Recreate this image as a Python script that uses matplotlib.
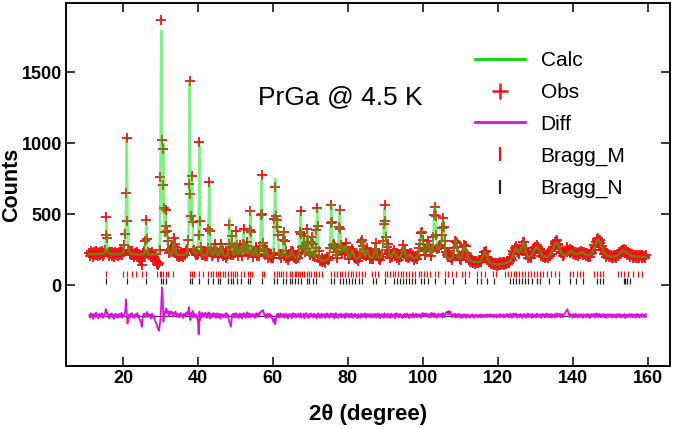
import numpy as np
import matplotlib
matplotlib.use("Agg")
import matplotlib.pyplot as plt
from matplotlib.lines import Line2D

plt.rcParams['font.family'] = ['Liberation Sans', 'DejaVu Sans']

# background points (2theta, counts), linear between them as in the refinement
bg_pos = [11, 20, 30, 40, 50, 60, 66, 73, 80, 90, 100, 110, 116, 120, 124, 130, 140, 150, 160]
bg_counts = [220, 218, 210, 203, 197, 190, 185, 165, 180, 185, 180, 170, 155, 142, 160, 185, 195, 195, 200]

# peaks: position, height above background, fwhm
peak_pos = [15.6, 20.6, 21.0, 26.2, 30.2, 30.8, 31.4, 31.8, 33.6, 37.8, 38.4, 40.4,
            43.0, 44.6, 46.2, 48.4, 49.0, 50.2, 51.2, 52.2, 53.0, 54.0, 55.4, 57.0,
            58.2, 60.6, 61.2, 63.0, 65.0, 67.4, 68.2, 69.2, 70.4, 71.8, 75.6, 76.4,
            77.8, 78.8, 79.6, 81.2, 83.8, 85.2, 87.4, 89.8, 90.6, 92.4, 94.8, 96.6,
            99.6, 101.4, 103.2, 104.4, 105.4, 108.8, 111.2, 116.6, 124.8, 126.8, 130.4,
            135.6, 139.6, 142.4, 146.8, 153.6]
peak_amp = [240, 60, 790, 235, 1560, 740, 240, 120, 100, 1210, 520, 770,
            500, 70, 80, 265, 160, 160, 60, 170, 80, 335, 60, 545,
            60, 545, 250, 195, 50, 315, 140, 200, 160, 365, 395, 110,
            345, 80, 90, 60, 130, 60, 95, 355, 70, 50, 85, 30,
            200, 110, 370, 60, 270, 140, 110, 80, 90, 120, 80,
            110, 40, 30, 125, 45]
peak_fwhm = [0.32, 0.4, 0.32, 0.32, 0.32, 0.32, 0.32, 0.35, 0.6, 0.32, 0.32, 0.32,
             0.34, 0.6, 0.6, 0.36, 0.36, 0.4, 0.5, 0.4, 0.45, 0.4, 0.5, 0.4,
             0.5, 0.42, 0.42, 0.45, 0.8, 0.45, 0.45, 0.5, 0.5, 0.5, 0.5, 0.5,
             0.5, 0.6, 0.6, 0.8, 0.7, 0.8, 0.6, 0.6, 0.7, 1.0, 0.8, 1.0,
             0.9, 0.9, 0.7, 0.9, 0.8, 0.9, 1.1, 1.3, 1.6, 1.3, 2.0,
             2.0, 2.0, 2.0, 2.2, 2.5]

# obs - calc, one value every 0.2 deg starting at 11.0
resid = [
    5, -12, 18, -3, 9, -20, 14, 2, -9, 22, -6, 11, -17, 4, 15, -8, 0, 19, -14, 7,
    -5, 12, 48, 20, 25, -10, 6, -18, 13, -2, 17, -11, 8, -21, 3, 16, -7, 10, -15, 5,
    14, -9, 2, 21, -13, 6, -4, 18, 30, 117, 25, -54, -20, 8, -12, 15, -6, 20, -10, 3,
    -16, 9, 12, -5, 19, -11, 4, -22, -30, -45, -77, -20, 6, 17, -9, 11, 10, 28, -8, 14,
    -3, 10, -18, 7, 15, -12, 2, -20, -35, -48, -60, -80, -95, -105, -70, -20, 73, 200, 130, -40,
    30, 15, 40, 52, 20, 35, -5, 28, 12, 33, 18, 25, -6, 22, 10, 30, 5, -8, 15, 2,
    -10, 12, 20, -4, 8, -15, 16, 3, -7, 18, 25, 5, 30, 63, 10, -30, 20, 10, 35, -12,
    15, 5, -8, 10, -20, -40, -129, 30, -30, 14, -12, 20, 2, 17, -5, 22, 8, -14, 18, -4,
    25, -18, 9, 16, -10, 4, 20, -6, 13, -15, 7, 18, -12, 3, 15, -20, 10, -3, 12, -9,
    6, 14, -11, 20, -4, 9, -25, -45, -60, -77, -20, 12, -8, 16, 3, -13, 19, -2, 10, -16,
    8, 17, -9, 12, -18, 5, 20, -6, 11, -14, 15, 24, -10, 4, 18, -12, 9, -3, 14, -7,
    10, -15, 6, 19, -8, 13, -2, 22, 15, 28, 35, 30, 40, 18, -5, 12, -14, 8, 16, -9,
    5, 14, -11, 7, -18, -30, -45, -20, -59, -25, 10, -6, 15, -12, 4, 18, -9, 11, -3, 13,
    -14, 6, 17, -8, 10, -19, 3, 14, -5, 12, -16, 8, 19, -7, 2, 15, -12, 9, -4, 16,
    -10, 5, 18, -13, 7, -2, 14, -17, 9, 20, -6, 11, -15, 4, 13, -9, 17, -3, 8, -12,
    15, -5, 10, -18, 6, 19, -8, 12, -14, 3, 16, -10, 7, -4, 14, -16, 9, 18, -7, 11,
    -13, 4, 17, -9, 12, -2, 15, -18, 8, 20, -11, 6, -15, 13, 2, -7, 16, -12, 9, -4,
    12, -16, 7, 18, -8, 3, 14, -12, 10, -5, 17, -14, 6, 11, -9, 15, -3, 8, -17, 13,
    -6, 10, -13, 16, 4, -10, 12, -2, 18, -15, 7, 13, -8, 3, 15, -11, 9, -5, 14, -12,
    8, -4, 15, -13, 6, 17, -9, 11, -16, 2, 13, -7, 10, -14, 18, -3, 7, -11, 14, -6,
    11, -15, 4, 16, -10, 8, -3, 13, -17, 9, 19, -6, 12, -12, 5, 15, -8, 3, -14, 10,
    -7, 14, -11, 6, 17, -5, 10, -16, 8, 12, -9, 4, 18, -13, 7, -2, 15, -10, 11, -4,
    13, -8, 9, -15, 16, 20, 5, 14, -6, 18, 10, -3, 12, -11, 6, 15, -9, 22, 8, -5,
    17, -10, 12, 4, -14, 9, 16, -7, 11, -2, 14, -12, 20, 6, -8, 13, 25, 18, 30, 10,
    35, 15, 28, 5, -10, 12, -6, 9, 16, -13, 4, 11, -9, 14, -4, 8, -15, 10, 3, -11,
    12, -6, 9, -14, 5, 10, -8, 3, -12, 7, -3, 11, -9, 4, -13, 6, 9, -5, 2, -10,
    8, -4, 11, -12, 3, 7, -9, 5, -2, 10, -11, 4, 8, -6, 1, 12, -8, 6, -3, 9,
    -10, 5, -2, 8, -12, 4, 9, -6, 13, -9, 6, -3, 11, -13, 7, 2, -8, 14, -5, 10,
    -11, 15, -4, 8, -14, 10, 17, -7, 12, -2, 16, -12, 9, 4, -9, 14, -5, 11, -15, 7,
    13, -6, 10, -13, 5, 17, -8, 12, -3, 9, -15, 14, 2, -10, 11, 6, -12, 16, -4, 8,
    -9, 12, 4, -14, 10, 15, -6, 8, -11, 13, -2, 16, -10, 6, 11, -8, 14, -13, 5, 9,
    -5, 14, -12, 7, 18, -7, 11, -3, 15, -10, 8, 13, -9, 4, 16, 20, 30, 38, 47, 25,
    10, -8, 14, -4, 9, -13, 12, 5, -10, 15, -6, 8, -12, 11, 3, -9, 13, -5, 7, -14,
    12, -3, 9, -11, 14, 6, -8, 11, -15, 7, 13, -6, 10, -2, 15, -12, 8, 18, -7, 12,
    -9, 13, 4, -12, 10, -5, 14, -10, 7, 11, -14, 5, 12, -7, 9, -3, 13, -11, 6, -8,
    11, -6, 8, -13, 12, 3, -9, 14, -4, 7, -12, 10, 5, -8, 13, -15, 9, 2, -10, 11,
    -5, 12, -9, 6, 14, -11, 8, -3, 10, -13, 7, 15, -6, 9, -12, 4, 11, -8, 13, -2,
    8, -10, 6, 12,
]
diff_offset = -215

bragg_m = [15.6, 19.9, 21.0, 22.4, 23.6, 25.2, 26.2, 29.2, 29.9, 30.2, 30.8, 31.4, 31.9,
           33.4, 37.8, 38.4, 38.9, 40.4, 41.4, 42.8, 43.4, 44.1, 44.8, 45.4, 46.0, 46.6,
           47.2, 48.1, 48.7, 49.4, 50.0, 50.5, 51.4, 52.3, 53.4, 54.0, 54.5, 57.0, 57.6,
           60.3, 61.0, 61.6, 62.1, 62.8, 63.6, 64.5, 65.2, 65.9, 66.3, 66.8, 67.2, 67.9,
           68.3, 69.0, 69.7, 70.3, 71.0, 71.6, 72.3, 73.0, 75.6, 76.3, 77.0, 77.8, 78.5,
           79.3, 80.0, 80.8, 81.5, 82.3, 83.0, 83.8, 84.6, 86.4, 87.2, 88.0, 89.8, 90.5,
           91.3, 92.0, 92.7, 93.5, 94.2, 94.8, 95.6, 96.3, 97.0, 97.8, 99.0, 99.6, 100.4,
           101.2, 102.0, 103.2, 104.0, 106.0, 106.8, 107.8, 108.8, 110.4, 111.2, 112.4,
           114.4, 115.4, 116.6, 118.8, 119.6, 122.0, 122.8, 123.6, 124.4, 125.0, 125.8,
           126.6, 127.4, 128.2, 129.0, 129.8, 130.6, 131.4, 132.2, 133.2, 134.2, 135.4,
           136.4, 139.4, 140.2, 141.2, 142.0, 142.8, 145.6, 146.4, 147.2, 148.0, 152.2,
           153.0, 153.8, 154.8, 156.2, 157.4, 158.6]
bragg_n = [15.6, 21.0, 26.2, 30.2, 30.8, 31.4, 37.8, 38.4, 40.4, 42.8, 44.1, 45.4, 46.0,
           48.1, 48.7, 49.4, 50.5, 51.6, 53.4, 54.0, 57.0, 60.3, 61.0, 62.8, 63.6, 64.5,
           65.2, 65.9, 66.8, 67.6, 69.0, 69.7, 70.8, 71.6, 75.6, 76.4, 77.8, 78.6, 79.4,
           80.4, 81.0, 81.8, 83.0, 83.8, 86.8, 87.4, 89.8, 92.4, 93.0, 93.8, 94.6, 95.4,
           96.2, 97.0, 98.0, 99.6, 100.4, 101.4, 103.2, 106.0, 108.0, 111.2, 114.4, 115.6,
           117.0, 119.0, 123.2, 124.0, 124.8, 125.6, 126.4, 127.2, 128.0, 129.2, 130.4,
           131.4, 133.8, 136.4, 139.4, 141.0, 142.8, 146.6, 147.4, 148.0, 153.6, 154.0,
           154.6, 155.2]
bragg_m_y = 80
bragg_n_y = 32


def pseudo_voigt(x, pos, amp, fwhm, eta=0.4):
    d = (x - pos) / fwhm
    g = np.exp(-4 * np.log(2) * d ** 2)
    l = 1 / (1 + 4 * d ** 2)
    return amp * (eta * l + (1 - eta) * g)


def calc_profile(x):
    y = np.interp(x, bg_pos, bg_counts)
    for p, a, w in zip(peak_pos, peak_amp, peak_fwhm):
        y = y + pseudo_voigt(x, p, a, w)
    return y


x_obs = 11.0 + 0.2 * np.arange(len(resid))
x_calc = np.arange(11.0, x_obs[-1] + 0.001, 0.02)
obs = calc_profile(x_obs) + np.array(resid)
calc = calc_profile(x_calc)

fig = plt.figure(figsize=(6.75, 4.29), dpi=100)
ax = fig.add_axes([0.0978, 0.1469, 0.895, 0.846])

red = '#ee1111'
green = '#11dd11'
magenta = '#dd11dd'

ax.plot(x_obs, obs, '+', color=red, ms=6.5, mew=1.3, zorder=2)
ax.plot(x_calc, calc, '-', color=green, lw=1.8, alpha=0.5, zorder=3)
ax.plot(bragg_m, [bragg_m_y] * len(bragg_m), '|', color=red, ms=4.5, mew=0.9)
ax.plot(bragg_n, [bragg_n_y] * len(bragg_n), '|', color='#222222', ms=4.5, mew=0.9)
ax.plot([x_obs[0], x_obs[-1]], [diff_offset, diff_offset], color='#333333', lw=0.8)
ax.plot(x_obs, np.array(resid) + diff_offset, color=magenta, lw=1.3)

ax.text(56, 1322, 'PrGa @ 4.5 K', fontsize=19, va='center', ha='left')

handles = [
    Line2D([], [], color='#00dd00', lw=2),
    Line2D([], [], ls='none', marker='+', color=red, ms=11, mew=1.8),
    Line2D([], [], color=magenta, lw=2),
    Line2D([], [], ls='none', marker='|', color=red, ms=10, mew=1.6),
    Line2D([], [], ls='none', marker='|', color='#222222', ms=10, mew=1.6),
]
labels = ['Calc', 'Obs', 'Diff', 'Bragg_M', 'Bragg_N']
ax.legend(handles, labels, loc='upper left', bbox_to_anchor=(0.677, 0.868),
          frameon=False, fontsize=15, handlelength=2.4, handletextpad=0.75,
          labelspacing=0.62, borderaxespad=0, borderpad=0)

ax.set_xlim(4.8, 166)
ax.set_ylim(-568, 1988)
ax.set_xticks([20, 40, 60, 80, 100, 120, 140, 160])
ax.set_yticks([0, 500, 1000, 1500])
ax.tick_params(direction='in', length=6.5, width=1.1, top=True, right=True,
               labelsize=13, pad=3)
for lab in ax.get_xticklabels() + ax.get_yticklabels():
    lab.set_fontweight('bold')
for sp in ax.spines.values():
    sp.set_linewidth(1.4)

ax.set_xlabel('2θ (degree)', fontsize=16, fontweight='bold', labelpad=12)
ax.set_ylabel('Counts', fontsize=15.5, fontweight='bold')
ax.yaxis.set_label_coords(-0.072, 0.5)

fig.savefig('out.png', dpi=100)
